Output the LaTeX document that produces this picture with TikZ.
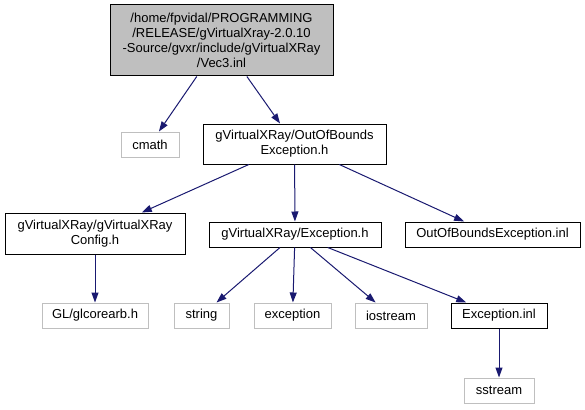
\documentclass[tikz,border=0pt]{standalone}
\usepackage{fontspec}
\setmainfont{Liberation Sans}
\usepackage{tikz}
\usetikzlibrary{arrows.meta}
\definecolor{edgeblue}{HTML}{191970}
\definecolor{boxgrey}{HTML}{BFBFBF}
\tikzset{
	fichier/.style={draw=black, line width=1pt, inner sep=0pt, align=center, font=\fontsize{13}{15}\selectfont},
	systeme/.style={fichier, draw=boxgrey},
	racine/.style={fichier, fill=boxgrey},
	lien/.style={draw=edgeblue, line width=1pt, -{Triangle[length=10pt,width=7pt]}}
}
\begin{document}
\begin{tikzpicture}[x=1pt, y=-1pt]
	\useasboundingbox (0,0) rectangle (585,409);
	%Vec3.inl et ses includes
	\node[racine, minimum width=223, minimum height=71] (vec) at (221.5,40.5) {/home/fpvidal/PROGRAMMING\\/RELEASE/gVirtualXray-2.0.10\\-Source/gvxr/include/gVirtualXRay\\/Vec3.inl};
	\node[systeme, minimum width=58, minimum height=25] (cmath) at (150,144.5) {cmath};
	\node[fichier, minimum width=183, minimum height=40] (oobh) at (294.5,144) {gVirtualXRay/OutOfBounds\\Exception.h};
	\node[fichier, minimum width=180, minimum height=41] (config) at (95,233.5) {gVirtualXRay/gVirtualXRay\\Config.h};
	\node[fichier, minimum width=172, minimum height=25] (exch) at (295,234.5) {gVirtualXRay/Exception.h};
	\node[fichier, minimum width=175, minimum height=25] (oobinl) at (492.5,234.5) {OutOfBoundsException.inl};
	\node[systeme, minimum width=106, minimum height=25] (gl) at (95,315.5) {GL/glcorearb.h};
	\node[systeme, minimum width=55, minimum height=25] (string) at (201.5,315.5) {string};
	\node[systeme, minimum width=77, minimum height=25] (exception) at (292.5,315.5) {exception};
	\node[systeme, minimum width=72, minimum height=25] (iostream) at (391,315.5) {iostream};
	\node[fichier, minimum width=96, minimum height=25] (excinl) at (499,315.5) {Exception.inl};
	\node[systeme, minimum width=70, minimum height=25] (sstream) at (499,390.5) {sstream};
	
	\draw[lien] (vec) -- (cmath);
	\draw[lien] (vec) -- (oobh);
	\draw[lien] (oobh) -- (config);
	\draw[lien] (oobh) -- (exch);
	\draw[lien] (oobh) -- (oobinl);
	\draw[lien] (config) -- (gl);
	\draw[lien] (exch) -- (string);
	\draw[lien] (exch) -- (exception);
	\draw[lien] (exch) -- (iostream);
	\draw[lien] (exch) -- (excinl);
	\draw[lien] (excinl) -- (sstream);
\end{tikzpicture}
\end{document}
